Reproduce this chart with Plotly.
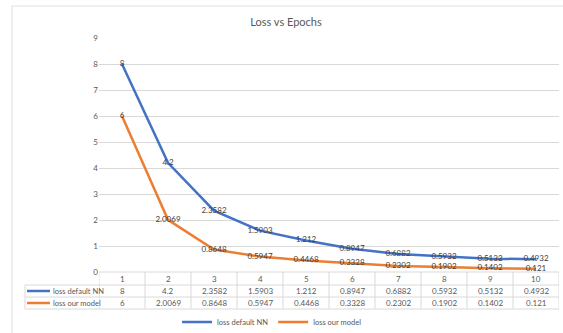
import plotly.graph_objects as go

epochs = [1, 2, 3, 4, 5, 6, 7, 8, 9, 10]
loss_default = [8, 4.2, 2.3582, 1.5903, 1.212, 0.8947, 0.6882, 0.5932, 0.5132, 0.4932]
loss_model = [6, 2.0069, 0.8648, 0.5947, 0.4468, 0.3328, 0.2302, 0.1902, 0.1402, 0.121]
series_names = ["loss default NN", "loss our model"]
colors = ["#4472C4", "#ED7D31"]

W, H = 563, 333
def px(x):
    return x / W
def py(y):
    return 1 - y / H

FONT = "Lato, Liberation Sans, sans-serif"
TXT = "#595959"
GRID = "#D9D9D9"

fig = go.Figure()
for name, vals, c in zip(series_names, [loss_default, loss_model], colors):
    fig.add_trace(go.Scatter(
        x=epochs, y=vals, name=name, mode="lines+text",
        text=[f"{v:g}" for v in vals], textposition="middle center",
        textfont=dict(size=8, color="#404040", family=FONT),
        line=dict(color=c, width=2.5), cliponaxis=False,
    ))

shapes = []
annotations = []
# chart frame
shapes.append(dict(type="rect", xref="paper", yref="paper", x0=px(12), x1=px(575),
                   y0=py(345), y1=py(6), line=dict(color="#E0E0E0", width=1), layer="below"))
# table horizontal lines
y_top, y_r1, y_r2, y_bot = 272, 285, 297, 309
shapes.append(dict(type="line", xref="x", yref="paper", x0=0.5, x1=10.5, y0=py(y_top), y1=py(y_top),
                   line=dict(color=GRID, width=1)))
for yy in [y_r1, y_r2, y_bot]:
    shapes.append(dict(type="line", xref="paper", yref="paper", x0=px(25), x1=px(559),
                       y0=py(yy), y1=py(yy), line=dict(color=GRID, width=1)))
# table vertical lines
for k in range(11):
    shapes.append(dict(type="line", xref="x", yref="paper", x0=0.5 + k, x1=0.5 + k,
                       y0=py(y_top), y1=py(y_bot), line=dict(color=GRID, width=1)))
shapes.append(dict(type="line", xref="paper", yref="paper", x0=px(25), x1=px(25),
                   y0=py(y_r1), y1=py(y_bot), line=dict(color=GRID, width=1)))

# header row labels
for e in epochs:
    annotations.append(dict(x=e, y=py((y_top + y_r1) / 2), xref="x", yref="paper",
                            yanchor="middle", xanchor="center",
                            text=str(e), showarrow=False, font=dict(size=8, color=TXT, family=FONT)))
# data rows
for r, (name, vals, c) in enumerate(zip(series_names, [loss_default, loss_model], colors)):
    yc = (y_r1 + y_r2) / 2 if r == 0 else (y_r2 + y_bot) / 2
    for e, v in zip(epochs, vals):
        annotations.append(dict(x=e, y=py(yc), xref="x", yref="paper", text=f"{v:g}",
                                yanchor="middle", xanchor="center",
                                showarrow=False, font=dict(size=8, color=TXT, family=FONT)))
    shapes.append(dict(type="line", xref="paper", yref="paper", x0=px(27), x1=px(50),
                       y0=py(yc), y1=py(yc), line=dict(color=c, width=2.5)))
    annotations.append(dict(x=px(51), y=py(yc), xref="paper", yref="paper", text=name,
                            xanchor="left", yanchor="middle",
                            showarrow=False, font=dict(size=7.5, color=TXT, family=FONT)))

fig.update_layout(
    width=W, height=H, margin=dict(l=0, r=0, t=0, b=0, autoexpand=False),
    paper_bgcolor="white", plot_bgcolor="white",
    title=dict(text="Loss vs Epochs", x=px(286), xanchor="center", y=py(22), yanchor="middle",
               font=dict(size=11, color=TXT, family=FONT)),
    xaxis=dict(domain=[px(99), px(559)], range=[0.5, 10.5], showticklabels=False,
               showgrid=False, zeroline=False, showline=False),
    yaxis=dict(domain=[py(272), py(38)], range=[0, 9], dtick=1, showgrid=True, gridcolor=GRID,
               zeroline=False, showline=False, ticks="",
               tickfont=dict(size=8, color=TXT, family=FONT)),
    showlegend=True,
    legend=dict(orientation="h", x=px(272), xanchor="center", y=py(322), yanchor="middle",
                font=dict(size=7.5, color=TXT, family=FONT), itemwidth=30,
                bgcolor="rgba(0,0,0,0)"),
    shapes=shapes, annotations=annotations,
)
fig.write_html("out.html")
